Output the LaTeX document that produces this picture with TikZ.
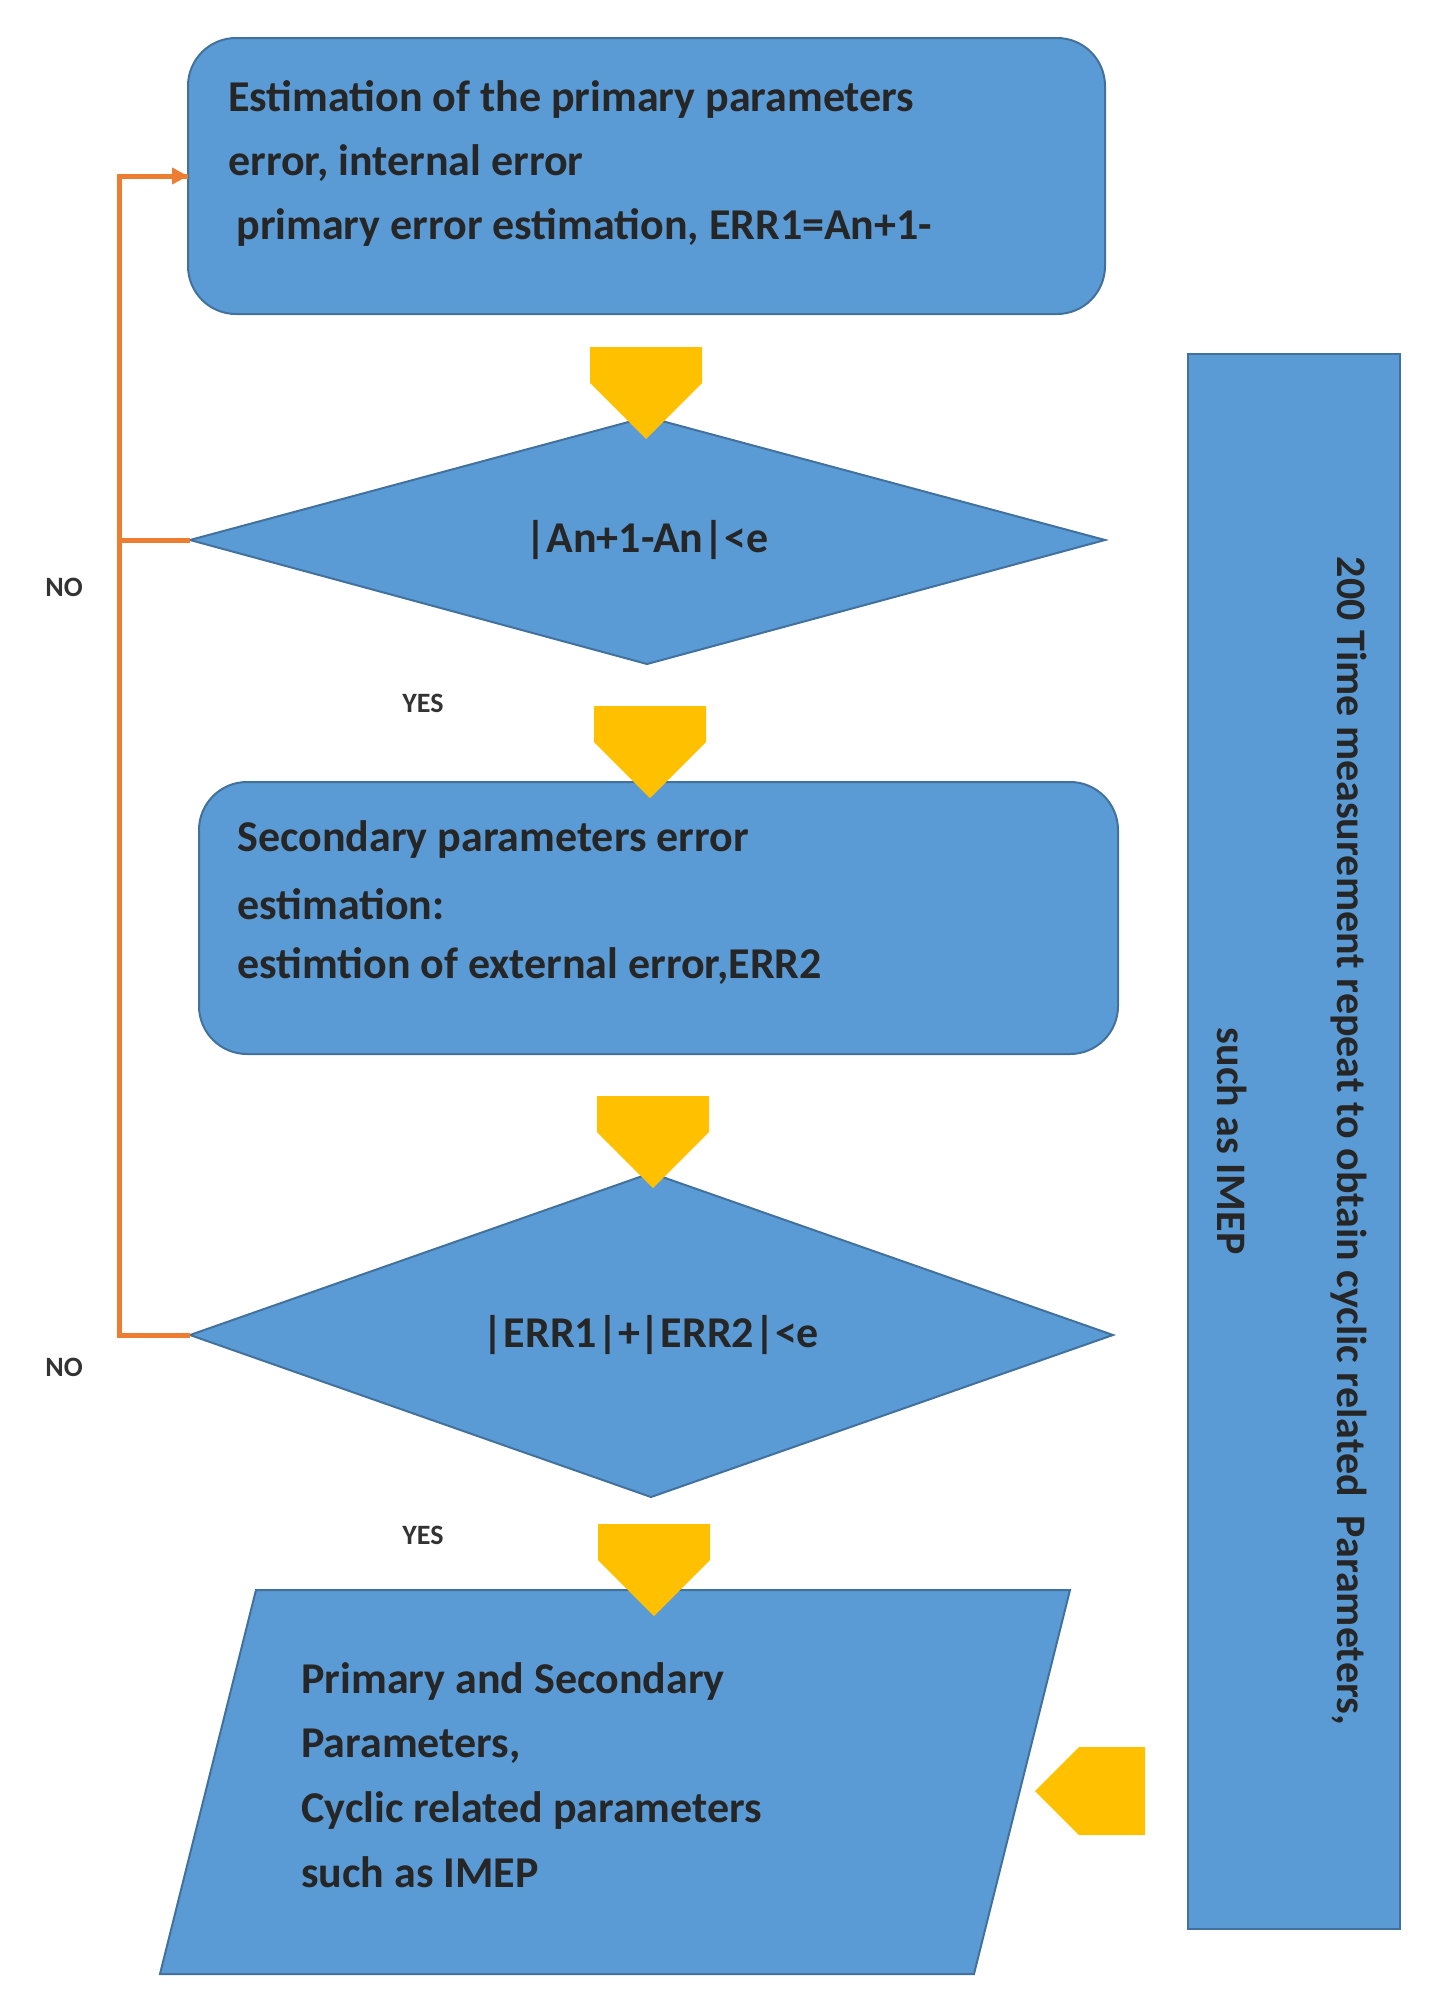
\documentclass[tikz,border=0pt]{standalone}
\usepackage{fontspec}
\setmainfont{Carlito}
\usetikzlibrary{shapes.arrows,arrows.meta}
\definecolor{bfill}{HTML}{5B9BD5}
\definecolor{bdraw}{HTML}{41719C}
\definecolor{yarr}{HTML}{FFC000}
\definecolor{orl}{HTML}{ED7D31}
\begin{document}
\begin{tikzpicture}[x=0.5pt,y=-0.5pt,
  blk/.style={fill=bfill,draw=bdraw,line width=1pt},
  txt/.style={font=\fontsize{22}{32}\selectfont\bfseries,text=black!85,inner sep=0pt},
  lbl/.style={font=\fontsize{14}{16}\selectfont\bfseries,text=black!80,inner sep=0pt},
  ya/.style={single arrow,fill=yarr,draw=none,minimum height=46pt,minimum width=56pt,single arrow head extend=0pt,single arrow tip angle=90,shape border rotate=270,inner sep=0pt},
  loop/.style={draw=orl,line width=2.5pt}]
\useasboundingbox (0,0) rectangle (1432,2008);
% boxes
\draw[blk,rounded corners=24pt] (188,38) rectangle (1105,314);
\coordinate (b1w) at (188,176);
\node[txt,anchor=west] at (228,99) {Estimation of the primary parameters};
\node[txt,anchor=west] at (228,163) {error, internal error};
\node[txt,anchor=west] at (236,227) {primary error estimation, ERR1=An+1-};
\draw[blk] (190,540) -- (647,417) -- (1105,540) -- (647,664) -- cycle;
\coordinate (d1w) at (190,540);
\node[txt] (d1) at (647,540) {|An+1-An|<e};
\draw[blk,rounded corners=24pt] (199,782) rectangle (1118,1054);
\node[txt,anchor=west] at (237,840) {Secondary parameters error};
\node[txt,anchor=west] at (237,904) {estimation:};
\node[txt,anchor=west] at (237,966) {estimtion of external error,ERR2};
\draw[blk] (190,1335) -- (651,1173) -- (1113,1335) -- (651,1497) -- cycle;
\coordinate (d2w) at (190,1335);
\node[txt] (d2) at (651,1335) {|ERR1|+|ERR2|<e};
\draw[blk] (256,1590) -- (1070,1590) -- (974,1974) -- (160,1974) -- cycle;
\node[txt,anchor=west] at (301,1682) {Primary and Secondary};
\node[txt,anchor=west] at (301,1746) {Parameters,};
\node[txt,anchor=west] at (301,1810) {Cyclic related parameters};
\node[txt,anchor=west] at (301,1872) {such as IMEP};
\draw[blk] (1188,354) rectangle (1400,1929);
\node[txt,rotate=-90,align=center,font=\fontsize{21}{60}\selectfont\bfseries] (rt) at (1292,1141) {200 Time measurement repeat to obtain cyclic related\ \ Parameters,\\such as IMEP};
% yellow arrows
\node[ya] (a1) at (646,365) {};
\node[ya] (a2) at (650,724) {};
\node[ya] (a3) at (653,1114) {};
\node[ya] (a4) at (654,1542) {};
\node[ya,shape border rotate=180,minimum height=55pt,minimum width=44pt] (a5) at (1112,1791) {};
% loops
\coordinate (lx1) at (119,176);
\coordinate (lx2) at (119,1335);
\draw[loop] (d2w) -- (lx2) -- (lx1) -- (b1w);
\draw[loop,-{Triangle[length=8pt,width=8pt]}] (lx1) -- (b1w);
\draw[loop] (d1w) -- (119,540);
\node[lbl] at (64,587) {NO};
\node[lbl] at (64,1367) {NO};
\node[lbl] at (423,703) {YES};
\node[lbl] at (423,1535) {YES};
\end{tikzpicture}
\end{document}
